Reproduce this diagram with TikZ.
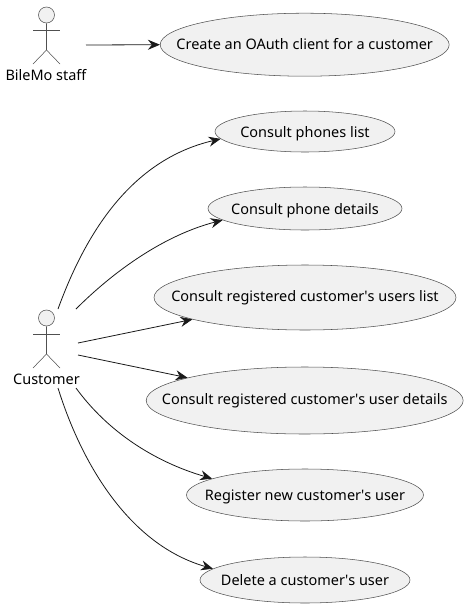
\documentclass[tikz,border=0pt]{standalone}
\usepackage{fontspec}
\setmainfont{Noto Sans}
\usetikzlibrary{shapes.geometric,arrows.meta}
\definecolor{usefill}{HTML}{F1F1F1}
\definecolor{useline}{HTML}{505050}

\begin{document}
\begin{tikzpicture}[x=0.75pt,y=-0.75pt]
                \tikzstyle{every node}+=[inner sep=0pt]
                \tikzstyle{usecase}=[ellipse,draw=useline,line width=0.4pt,fill=usefill]
                \tikzstyle{actorpart}=[draw=useline,line width=0.4pt]
                \tikzstyle{head}=[circle,draw=useline,line width=0.4pt,fill=usefill,minimum size=12pt]
                \tikzstyle{link}=[black!90,line width=0.6pt,-{Stealth[length=9pt,width=7.5pt,inset=3pt]}]
                \tikzset{font=\fontsize{10.85}{13}\selectfont}
                \useasboundingbox (0,0) rectangle (468,608);
                \node (staffhead) [head] at (46.5,15) {};
                \draw [actorpart] (staffhead.south) -- (46.5,50) -- (33,64);
                \draw [actorpart] (46.5,50) -- (60,64);
                \draw [actorpart] (33,30) -- (60,30);
                \node (staff) at (46,75) {BileMo staff};
                \coordinate (staffout) at (86,45);
                \node (custhead) [head] at (46.5,318) {};
                \draw [actorpart] (custhead.south) -- (46.5,354) -- (33,368);
                \draw [actorpart] (46.5,354) -- (60,368);
                \draw [actorpart] (33,334) -- (60,334);
                \node (customer) at (46.5,379) {Customer};
                \coordinate (custa) at (58,309);
                \coordinate (custb) at (76,309);
                \coordinate (custc) at (78,343);
                \coordinate (custd) at (78,355);
                \coordinate (custe) at (76,388);
                \coordinate (custf) at (58,388);
                \node (oauth) [usecase,minimum width=216.75pt,minimum height=47.25pt,label={[yshift=0.75pt]center:Create an OAuth client for a customer}] at (304.7,44.7) {};
                \node (phones) [usecase,minimum width=135pt,minimum height=30.75pt,label={[yshift=-1.5pt]center:Consult phones list}] at (305,131.5) {};
                \node (details) [usecase,minimum width=145.5pt,minimum height=32.25pt,label={[yshift=-1.5pt]center:Consult phone details}] at (305,208.5) {};
                \node (userlist) [usecase,minimum width=226.5pt,minimum height=48.75pt,label=center:{Consult registered customer\textquotesingle s users list}] at (305,297.5) {};
                \node (userdetails) [usecase,minimum width=237.75pt,minimum height=50.25pt,label={[yshift=-0.4pt]center:Consult registered customer\textquotesingle s user details}] at (304.7,400.5) {};
                \node (register) [usecase,minimum width=177.75pt,minimum height=39pt,label={[yshift=-1.5pt]center:Register new customer\textquotesingle s user}] at (305,495) {};
                \node (delete) [usecase,minimum width=157.5pt,minimum height=34.5pt,label=center:{Delete a customer\textquotesingle s user}] at (305,580) {};
                \draw [link] (staffout) -- (oauth.west);
                \draw [link] (custa) .. controls (85,235) and (130,160) .. (phones.185);
                \draw [link] (custb) .. controls (115,270) and (165,235) .. (details.188);
                \draw [link] (custc) -- (userlist.191);
                \draw [link] (custd) -- (userdetails.169);
                \draw [link] (custe) .. controls (108,432) and (155,462) .. (register.170.2);
                \draw [link] (custf) .. controls (82,465) and (130,545) .. (delete.173.4);
\end{tikzpicture}
\end{document}
